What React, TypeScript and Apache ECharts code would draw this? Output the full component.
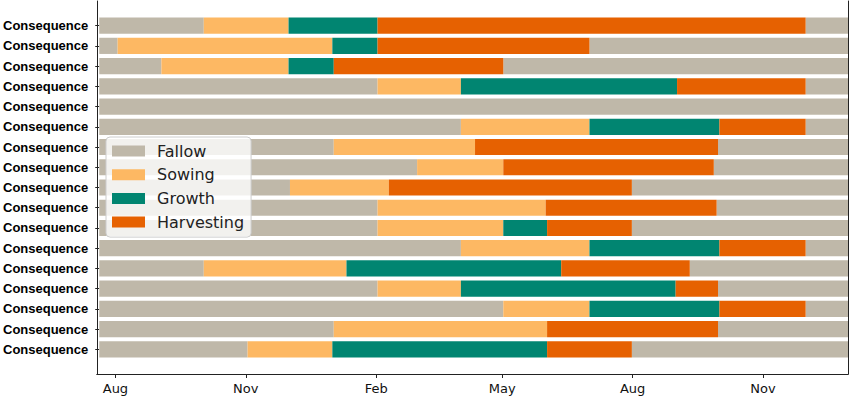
import React, { useEffect, useRef } from "react";
import * as echarts from "echarts";

// ---- data ----
const rangeStart = "2018-07-19";
const rangeEnd = "2019-12-31";

const phaseNames = ["Fallow", "Sowing", "Growth", "Harvesting"];
const phaseColors = ["#bfb8a9", "#fdb863", "#018571", "#e66101"];

const rowLabels = [
  "Consequence", "Consequence", "Consequence", "Consequence", "Consequence",
  "Consequence", "Consequence", "Consequence", "Consequence", "Consequence",
  "Consequence", "Consequence", "Consequence", "Consequence", "Consequence",
  "Consequence", "Consequence",
];

// each row: list of [phase, end date]; a segment starts where the previous one ends
const rowSegments: [string, string][][] = [
  [["Fallow", "2018-10-01"], ["Sowing", "2018-11-30"], ["Growth", "2019-02-01"], ["Harvesting", "2019-12-01"], ["Fallow", rangeEnd]],
  [["Fallow", "2018-08-01"], ["Sowing", "2018-12-31"], ["Growth", "2019-02-01"], ["Harvesting", "2019-07-01"], ["Fallow", rangeEnd]],
  [["Fallow", "2018-09-01"], ["Sowing", "2018-11-30"], ["Growth", "2019-01-01"], ["Harvesting", "2019-05-01"], ["Fallow", rangeEnd]],
  [["Fallow", "2019-02-01"], ["Sowing", "2019-04-01"], ["Growth", "2019-09-01"], ["Harvesting", "2019-12-01"], ["Fallow", rangeEnd]],
  [["Fallow", rangeEnd]],
  [["Fallow", "2019-04-01"], ["Sowing", "2019-07-01"], ["Growth", "2019-10-01"], ["Harvesting", "2019-12-01"], ["Fallow", rangeEnd]],
  [["Fallow", "2019-01-01"], ["Sowing", "2019-04-11"], ["Harvesting", "2019-09-30"], ["Fallow", rangeEnd]],
  [["Fallow", "2019-03-01"], ["Sowing", "2019-05-01"], ["Harvesting", "2019-09-27"], ["Fallow", rangeEnd]],
  [["Fallow", "2018-12-01"], ["Sowing", "2019-02-09"], ["Harvesting", "2019-07-31"], ["Fallow", rangeEnd]],
  [["Fallow", "2019-02-01"], ["Sowing", "2019-05-31"], ["Harvesting", "2019-09-29"], ["Fallow", rangeEnd]],
  [["Fallow", "2019-02-01"], ["Sowing", "2019-05-01"], ["Growth", "2019-06-01"], ["Harvesting", "2019-07-31"], ["Fallow", rangeEnd]],
  [["Fallow", "2019-04-01"], ["Sowing", "2019-07-01"], ["Growth", "2019-10-01"], ["Harvesting", "2019-12-01"], ["Fallow", rangeEnd]],
  [["Fallow", "2018-10-01"], ["Sowing", "2019-01-10"], ["Growth", "2019-06-11"], ["Harvesting", "2019-09-10"], ["Fallow", rangeEnd]],
  [["Fallow", "2019-02-01"], ["Sowing", "2019-04-01"], ["Growth", "2019-08-31"], ["Harvesting", "2019-09-30"], ["Fallow", rangeEnd]],
  [["Fallow", "2019-05-01"], ["Sowing", "2019-07-01"], ["Growth", "2019-10-01"], ["Harvesting", "2019-12-01"], ["Fallow", rangeEnd]],
  [["Fallow", "2019-01-01"], ["Sowing", "2019-06-01"], ["Harvesting", "2019-09-30"], ["Fallow", rangeEnd]],
  [["Fallow", "2018-11-01"], ["Sowing", "2018-12-31"], ["Growth", "2019-06-01"], ["Harvesting", "2019-07-31"], ["Fallow", rangeEnd]],
];

const tickDates = ["2018-08-01", "2018-11-01", "2019-02-01", "2019-05-01", "2019-08-01", "2019-11-01"];
const tickLabels = ["Aug", "Nov", "Feb", "May", "Aug", "Nov"];

// ---- helpers ----
const ts = (d: string) => {
  const [y, m, day] = d.split("-").map(Number);
  return Date.UTC(y, m - 1, day);
};

function buildPhaseData(phase: string) {
  const out: number[][] = [];
  rowSegments.forEach((segs, row) => {
    let start = ts(rangeStart);
    segs.forEach(([p, end]) => {
      const e = ts(end);
      if (p === phase) out.push([row, start, e]);
      start = e;
    });
  });
  return out;
}

export default function App() {
  const ref = useRef<HTMLDivElement>(null);

  useEffect(() => {
    if (!ref.current) return;
    document.body.style.margin = "0";
    const chart = echarts.init(ref.current, undefined, { renderer: "svg" });
    const minT = ts(rangeStart);
    const maxT = ts(rangeEnd);
    const tickTs = tickDates.map(ts);

    const series = phaseNames.map((name, i) => ({
      type: "custom",
      name,
      xAxisIndex: 0,
      yAxisIndex: 0,
      itemStyle: { color: phaseColors[i] },
      encode: { x: [1, 2], y: 0 },
      data: buildPhaseData(name),
      z: 2,
      renderItem: (params: any, api: any) => {
        const row = api.value(0);
        const p0 = api.coord([api.value(1), row]);
        const p1 = api.coord([api.value(2), row]);
        const h = api.size([0, 1])[1] * 0.8;
        return {
          type: "rect",
          shape: { x: p0[0], y: p0[1] - h / 2, width: p1[0] - p0[0], height: h },
          style: { fill: phaseColors[i] },
        };
      },
    }));

    const frameLine = { show: true, lineStyle: { color: "#222", width: 1 } };

    chart.setOption({
      animation: false,
      backgroundColor: "#ffffff",
      grid: [
        { left: 97, right: 2, top: 15.5, height: 344 },
        { left: 97, right: 2, top: 1, bottom: 23 },
      ],
      legend: {
        orient: "vertical",
        left: 106,
        top: 137,
        padding: [6, 7, 7, 6],
        icon: "rect",
        itemWidth: 33,
        itemHeight: 11,
        itemGap: 7.7,
        backgroundColor: "rgba(255,255,255,0.8)",
        borderColor: "#cccccc",
        borderWidth: 1,
        borderRadius: 4,
        data: phaseNames,
        textStyle: {
          fontFamily: "DejaVu Sans",
          fontSize: 16,
          lineHeight: 16,
          color: "#222",
          padding: [0, 0, 0, 7],
        },
      },
      xAxis: [
        { gridIndex: 0, type: "value", min: minT, max: maxT, show: false },
        {
          gridIndex: 1,
          type: "value",
          min: minT,
          max: maxT,
          position: "bottom",
          z: 10,
          axisLine: frameLine,
          splitLine: { show: false },
          axisTick: {
            show: true,
            length: 4,
            lineStyle: { color: "#222", width: 1 },
            customValues: tickTs,
          },
          axisLabel: {
            customValues: tickTs,
            margin: 8,
            fontFamily: "DejaVu Sans",
            fontSize: 13,
            color: "#111",
            formatter: (v: number) => {
              const i = tickTs.findIndex((t) => Math.abs(t - v) < 86400000);
              return i >= 0 ? tickLabels[i] : "";
            },
          },
        },
        {
          gridIndex: 1,
          type: "value",
          position: "top",
          z: 10,
          axisLine: frameLine,
          axisTick: { show: false },
          axisLabel: { show: false },
          splitLine: { show: false },
        },
      ],
      yAxis: [
        {
          gridIndex: 0,
          type: "category",
          inverse: true,
          data: rowLabels,
          axisLine: { show: false },
          axisTick: {
            show: true,
            alignWithLabel: true,
            length: 4,
            lineStyle: { color: "#222", width: 1 },
          },
          axisLabel: {
            margin: 11,
            fontFamily: "Liberation Sans",
            fontWeight: "bold",
            fontSize: 13,
            color: "#000",
          },
          splitLine: { show: false },
        },
        {
          gridIndex: 1,
          type: "value",
          position: "left",
          z: 10,
          axisLine: frameLine,
          axisTick: { show: false },
          axisLabel: { show: false },
          splitLine: { show: false },
        },
        {
          gridIndex: 1,
          type: "value",
          position: "right",
          z: 10,
          axisLine: frameLine,
          axisTick: { show: false },
          axisLabel: { show: false },
          splitLine: { show: false },
        },
      ],
      series,
    });

    return () => chart.dispose();
  }, []);

  return <div ref={ref} style={{ width: 850, height: 397 }} />;
}
